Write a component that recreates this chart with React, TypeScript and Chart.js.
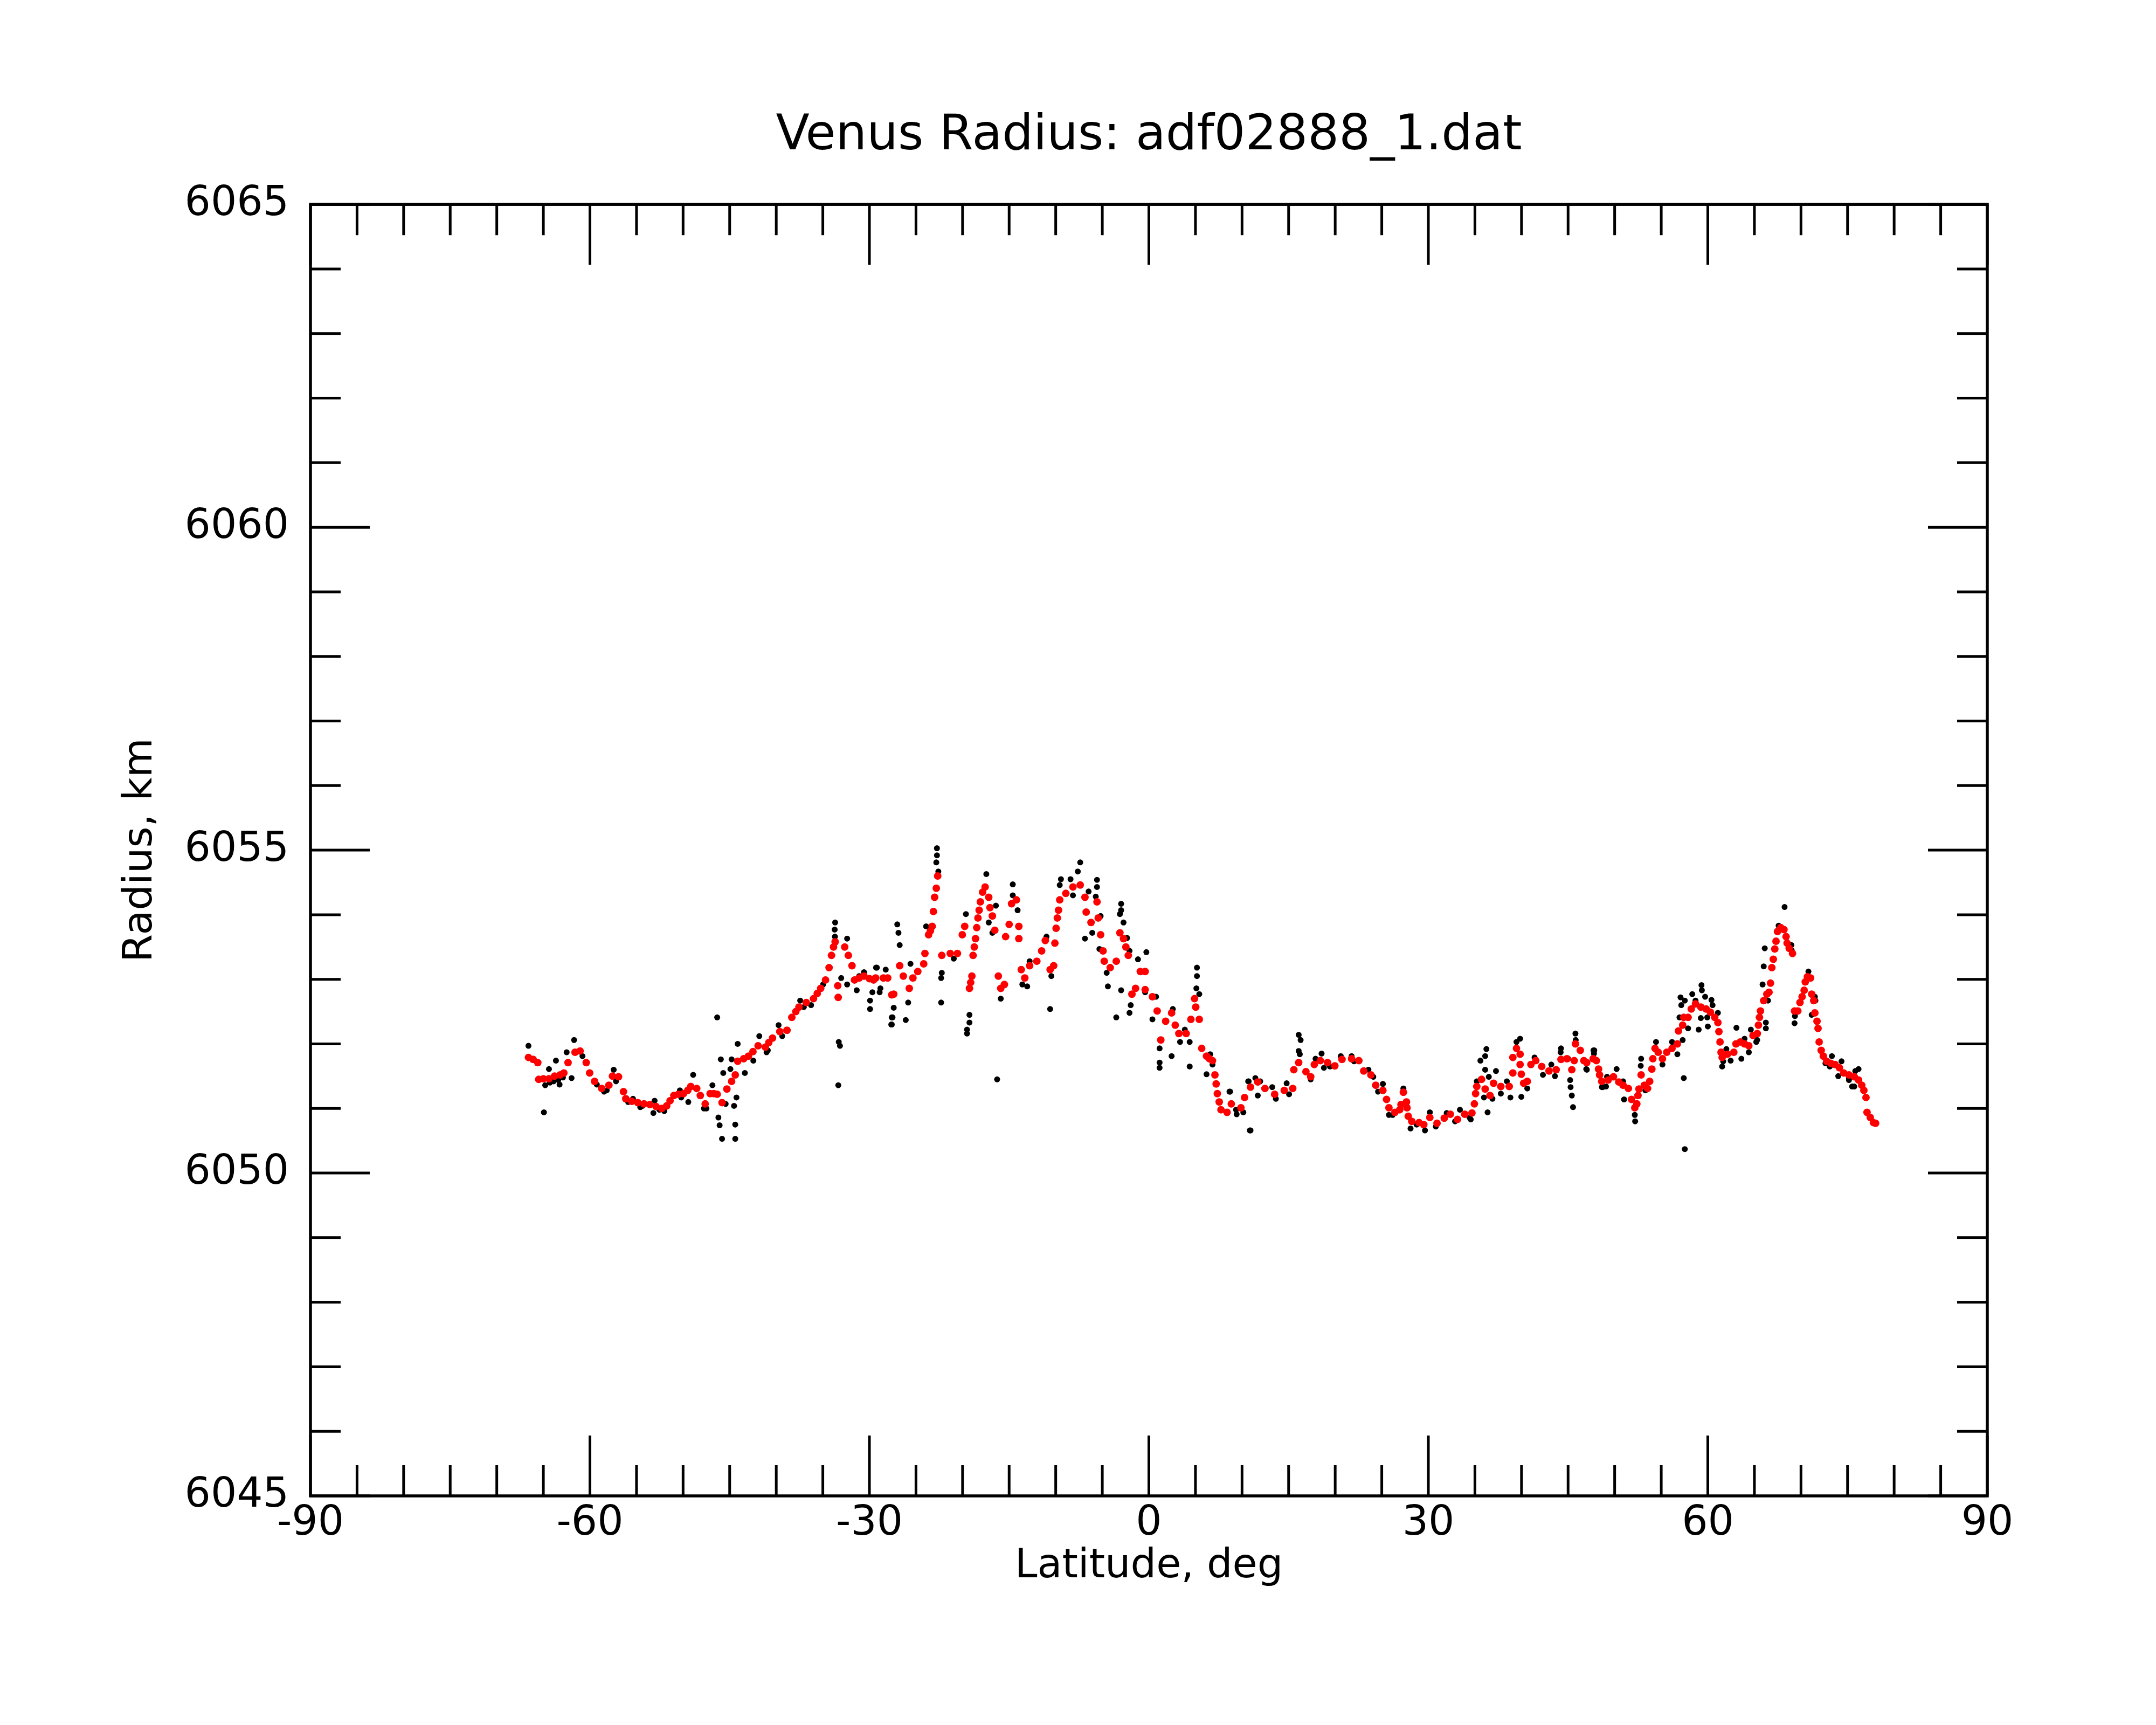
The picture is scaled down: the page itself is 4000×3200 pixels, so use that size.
import { useEffect, useRef } from "react"
import { Chart, registerables } from "chart.js"

Chart.register(...registerables)

// smoothed radius (red)
const smoothLat = [
  -66.6, -66.1, -65.6, -65.5, -65.0, -64.4, -63.8, -63.2, -62.8, -62.35, -61.6, -61.06, -60.4, -60.03, -59.5,
  -58.74, -57.97, -57.58, -56.93, -56.4, -56.15, -55.5, -54.86, -54.2, -53.57, -52.9, -52.28, -51.76, -51.4,
  -50.99, -50.5, -49.96, -49.5, -49.18, -48.54, -48.15, -47.63, -47.1, -46.7, -46.34, -45.82, -45.3, -44.79,
  -44.4, -44.14, -43.5, -42.98, -42.5, -41.95, -41.17, -40.8, -40.4, -39.62, -38.85, -38.33, -37.9, -37.56,
  -36.78, -36.0, -35.6, -35.23, -34.71, -34.33, -34.07, -33.85, -33.68, -33.4, -33.35, -32.65, -32.26, -31.87,
  -31.6, -31.1, -30.58, -30.0, -29.55, -29.33, -28.5, -28.04, -27.6, -27.39,
  -26.75, -26.36, -25.72, -25.33, -24.81, -24.17, -24.04, -23.65, -23.45, -23.26, -23.13, -23.0, -22.82, -22.67,
  -22.23, -21.32, -20.55, -20.03, -19.77, -19.26, -19.13, -19.0, -18.87, -18.74, -18.61, -18.48, -18.35,
  -18.22, -18.09, -17.85, -17.58, -17.19, -17.06, -16.8, -16.54, -16.16, -15.9, -15.51, -15.38, -15.0, -14.74,
  -14.22, -13.96, -13.96, -13.7, -13.32, -12.8, -12.03, -11.51, -11.12, -10.6, -10.22, -10.09, -9.96, -9.83,
  -9.7, -9.57, -8.92, -8.15, -7.37, -6.86, -6.73, -6.21, -5.57, -5.44, -5.18, -4.92, -4.79, -4.15, -3.5,
  -3.11, -2.72, -2.47, -2.21, -1.82, -1.43, -0.92, -0.4, -0.4, 0.38, 0.89, 1.28, 1.8, 2.44, 2.83, 3.22, 4.0,
  4.51, 4.9, 5.03, 5.41, 5.67, 6.19, 6.5, 6.83, 7.09, 7.22, 7.35, 7.55, 7.74, 8.39,
  8.85, 9.88, 10.27, 10.91, 11.69, 12.46, 13.5, 14.53, 15.44, 15.56, 16.08, 16.86, 17.37, 17.76, 18.41, 19.18,
  19.96, 20.73, 21.76, 22.54, 23.06, 23.83, 24.35, 25.12, 25.51, 25.77, 26.41, 26.93, 27.06, 27.32, 27.65,
  27.71, 27.84, 28.22, 29.0, 29.51, 30.16, 30.93, 31.71, 32.36, 33.13, 33.91, 34.68, 34.94, 35.07, 35.2, 35.71,
  36.1, 36.62, 37.0, 37.78, 38.68, 39.07, 39.07, 39.46, 39.85, 39.85, 39.98, 40.23, 40.62, 41.01, 41.53, 42.17,
  42.95, 43.72, 44.24, 44.88, 45.4, 45.66, 45.79, 46.31, 46.69,
  47.0, 47.69, 48.04, 48.27, 48.38, 48.61, 49.3, 49.87, 50.44, 50.9, 51.47, 51.81, 52.16, 52.38, 52.5, 52.61,
  52.84, 53.19, 53.53, 53.76, 53.99, 54.1, 54.33, 54.67, 55.13, 55.59, 56.16, 56.73, 56.85, 57.3, 57.42, 57.88,
  58.22, 58.68, 59.25, 59.82, 60.28, 60.74, 61.08, 61.19, 61.31, 61.42, 61.54, 62.11, 62.79, 63.02, 63.48,
  63.94, 64.4, 64.85, 65.31, 65.43, 65.54, 65.65, 66.0, 66.34, 66.57, 66.73, 66.87, 67.03, 67.19, 67.32, 67.48,
  67.83, 68.17, 68.4, 68.51, 68.74, 69.09, 69.31, 69.66, 69.89, 70.12, 70.34, 70.46, 70.69, 71.03, 71.15,
  71.37, 71.49, 71.72, 71.83, 71.95, 72.17, 72.4, 72.75, 73.2, 73.66, 74.12, 74.58, 75.15, 75.72, 76.18, 76.52,
  76.75, 76.98, 77.09, 77.44, 77.78, 78.01,
]
const smoothRadius = [
  6051.79, 6051.76, 6051.71, 6051.45, 6051.46, 6051.46, 6051.5, 6051.52, 6051.55, 6051.71, 6051.87, 6051.89,
  6051.71, 6051.55, 6051.42, 6051.31, 6051.36, 6051.5, 6051.49, 6051.26, 6051.15, 6051.11, 6051.09, 6051.07,
  6051.06, 6051.03, 6051.0, 6051.04, 6051.12, 6051.2, 6051.22, 6051.23, 6051.28, 6051.34, 6051.31, 6051.2,
  6051.07, 6051.23, 6051.23, 6051.22, 6051.09, 6051.3, 6051.42, 6051.52, 6051.73, 6051.77, 6051.81, 6051.88,
  6051.97, 6051.95, 6052.02, 6052.09, 6052.19, 6052.21, 6052.41, 6052.5, 6052.57, 6052.64, 6052.7, 6052.78,
  6052.86, 6052.99, 6053.18, 6053.37, 6053.5, 6053.58, 6052.9, 6052.72, 6053.5, 6053.37, 6053.21, 6052.99,
  6053.02, 6053.05, 6053.01, 6052.99, 6053.02, 6053.02, 6053.02, 6052.76, 6052.77,
  6053.21, 6053.05, 6052.86, 6053.02, 6053.12, 6053.24, 6053.4, 6053.69, 6053.75, 6053.82, 6054.05, 6054.27,
  6054.41, 6054.6, 6053.37, 6053.4, 6053.4, 6053.69, 6053.82, 6052.86, 6052.95, 6053.05, 6053.37, 6053.5,
  6053.63, 6053.8, 6053.95, 6054.07, 6054.2, 6054.35, 6054.43, 6054.27, 6054.11, 6053.98, 6053.76, 6053.05,
  6052.86, 6052.92, 6053.66, 6053.85, 6054.17, 6054.23, 6053.82, 6053.63, 6053.15, 6053.02, 6053.21, 6053.28,
  6053.44, 6053.6, 6053.15, 6053.21, 6053.56, 6053.79, 6053.95, 6054.07, 6054.23, 6054.33, 6054.43, 6054.46,
  6054.27, 6054.04, 6053.88, 6054.2, 6053.95, 6053.69, 6053.44, 6053.28, 6053.18, 6053.28, 6053.72, 6053.63,
  6053.5, 6053.37, 6052.77, 6052.86, 6053.12, 6053.12, 6052.84, 6052.73, 6052.51, 6052.06, 6052.35, 6052.48,
  6052.29, 6052.16, 6052.16, 6052.38, 6052.7, 6052.57, 6052.38, 6051.93, 6051.81, 6051.77, 6051.74, 6051.52,
  6051.38, 6051.23, 6051.1, 6050.98, 6050.94,
  6051.07, 6051.01, 6051.17, 6051.33, 6051.41, 6051.31, 6051.22, 6051.28, 6051.31, 6051.6, 6051.71, 6051.57,
  6051.49, 6051.68, 6051.74, 6051.71, 6051.66, 6051.76, 6051.77, 6051.74, 6051.58, 6051.52, 6051.36, 6051.28,
  6051.14, 6051.01, 6050.94, 6050.98, 6051.06, 6051.25, 6051.1, 6051.01, 6050.88, 6050.8, 6050.78, 6050.75,
  6050.86, 6050.77, 6050.85, 6050.91, 6050.83, 6050.91, 6050.93, 6051.07, 6051.23, 6051.34, 6051.45, 6051.3,
  6051.2, 6051.39, 6051.34, 6051.34, 6051.55, 6051.79, 6051.93, 6051.84, 6051.68, 6051.53, 6051.39, 6051.42,
  6051.68, 6051.74, 6051.65, 6051.58, 6051.6, 6051.76, 6051.77, 6051.6, 6051.74, 6052.0, 6051.9, 6051.74,
  6051.71, 6051.77, 6051.74, 6051.61, 6051.52, 6051.42, 6051.44, 6051.49, 6051.41, 6051.36, 6051.31, 6051.14,
  6051.01, 6051.07, 6051.2, 6051.3, 6051.52, 6051.36, 6051.31, 6051.42, 6051.61, 6051.77, 6051.93, 6051.87,
  6051.77, 6051.87, 6051.93, 6052.0, 6052.2, 6052.29, 6052.41, 6052.41, 6052.54, 6052.62, 6052.57, 6052.54,
  6052.49, 6052.41, 6052.33, 6052.19, 6052.03, 6051.87, 6051.79, 6051.84, 6051.87, 6052.0, 6052.03, 6052.0,
  6051.97, 6052.13, 6052.16, 6052.29, 6052.41, 6052.51, 6052.67, 6052.77, 6052.8, 6052.94, 6053.18, 6053.31,
  6053.47, 6053.59, 6053.74, 6053.8, 6053.77, 6053.66, 6053.56, 6053.48, 6053.4, 6052.51, 6052.51, 6052.64,
  6052.73, 6052.83, 6052.96, 6053.04, 6053.02, 6052.77, 6052.67, 6052.48, 6052.35, 6052.24, 6052.03, 6051.9,
  6051.81, 6051.73, 6051.7, 6051.68, 6051.63, 6051.55, 6051.52, 6051.49, 6051.44, 6051.36, 6051.28, 6051.17,
  6050.94, 6050.86, 6050.78, 6050.77,
]

// raw radius samples (black)
const rawLat = [
  -66.6, -64.94, -64.8, -64.4, -63.65, -63.26, -62.5, -61.97, -61.7, -60.8, -58.48, -57.45, -55.38, -54.6,
  -53.19, -53.06, -50.34, -49.44, -48.92, -47.76, -46.85, -46.34, -46.21, -46.08, -45.82, -45.95, -45.69,
  -45.43, -44.92, -44.79, -44.53, -44.4, -44.4, -44.27, -44.14, -43.37, -41.82, -41.04, -39.75, -37.43, -34.97,
  -33.68, -33.73, -33.7, -33.29, -33.16, -33.34, -33.03, -32.39, -32.39, -31.36, -30.58, -29.93, -29.93, -29.68,
  -29.29, -28.9, -28.25, -27.6, -27.6,
  -59.26, -55.9, -54.35, -52.54, -52.02, -50.2, -47.5, -42.46, -40.91, -39.36, -37.04, -36.26, -31.1,
  -64.3, -63.9, -63.4, -62.9, -58.2, -57.2,
  -22.75, -22.75, -22.82, -22.6, -27.01, -26.88, -26.75, -27.39, -27.52, -27.65, -26.1, -25.84, -25.59, -28.82,
  -29.2, -23.91, -22.23, -22.3, -22.3, -20.94, -19.64, -19.52, -19.52, -19.26, -19.26, -17.45, -17.19, -16.8,
  -16.42, -16.29, -15.9, -14.61, -14.61, -14.09, -13.58, -13.06, -12.8, -10.99, -10.6, -10.47, -9.44, -9.57,
  -8.41, -8.15, -7.63, -7.37, -6.47, -5.57, -5.57, -5.7, -6.86, -6.08, -5.18, -5.31, -4.53, -4.4, -3.5, -2.98,
  -2.98, -3.11, -2.72, -2.98, -2.34, -2.08, -1.95, -2.08, -1.17, -0.27, -0.4, 0.38, 0.77, 1.15, 1.15, 1.15,
  2.44, 2.57, 3.35, 3.86, 4.38, 4.38, 5.16, 5.16, 5.1, 5.41, 6.19, 6.58, 6.83, 8.65, 9.42, 10.71, 10.84,
  8.72, 9.36, 10.91, 10.66, 11.43, 11.95, 11.69, 13.24, 13.63, 14.79, 15.05, 16.08, 16.29, 16.08, 16.2, 17.37,
  17.89, 18.54, 18.79, 20.6, 21.76, 23.57, 25.12, 25.77, 27.32, 28.09, 29.64, 30.16, 30.8, 31.97, 33.39,
  34.55, 35.2, 35.59, 36.1, 36.23, 36.1, 35.97, 36.36, 36.49, 36.88, 37.26, 37.78, 38.43, 38.81, 39.46,
  39.85, 39.98, 40.62, 41.4, 42.3, 43.2, 43.59, 44.24, 44.2, 45.01, 45.22, 45.27, 45.4, 45.53, 45.79, 45.82,
  46.95, 47.73, 47.78, 48.63,
  10.14, 19.44, 22.02, 24.09, 24.6, 26.16, 28.74, 32.87, 34.42,
  47.81, 47.01, 48.72, 49.18, 50.21, 50.9, 51.01, 52.16, 52.2, 52.84, 52.8, 53.3, 54.44, 55.13, 56.16, 56.73,
  57.3, 57.42, 57.53, 56.96, 57.07, 57.15, 57.53, 57.88, 58.33, 58.68, 59.02, 59.25, 59.32, 59.36, 59.71,
  59.94, 60.0, 60.39, 60.51, 61.08, 61.54, 61.65, 61.99, 62.45, 63.07, 63.6, 63.94, 64.4, 64.62, 65.2, 65.3,
  65.88, 66.0, 66.11, 66.23, 66.23, 66.46, 67.6, 68.24, 68.97, 69.0, 69.31, 69.35, 70.8, 71.49, 71.55, 71.15,
  72.63, 73.32, 74.0, 74.35, 75.15, 75.83, 76.18, 75.72,
  49.07, 73.09, 75.15, 75.49,
]
const rawRadius = [
  6051.97, 6050.94, 6051.36, 6051.61, 6051.74, 6051.37, 6051.87, 6051.47, 6052.06, 6051.81, 6051.26, 6051.6,
  6051.15, 6051.02, 6050.93, 6051.12, 6051.28, 6051.1, 6051.52, 6051.0, 6051.36, 6052.41, 6050.86, 6050.74,
  6050.53, 6051.76, 6051.55, 6051.07, 6051.61, 6051.76, 6051.04, 6050.75, 6050.53, 6051.17, 6052.0, 6051.55,
  6052.12, 6051.87, 6052.29, 6052.67, 6052.92, 6053.88, 6053.77, 6053.66, 6052.03, 6051.97, 6051.36, 6053.02,
  6053.63, 6052.92, 6052.83, 6053.11, 6052.67, 6052.54, 6052.8, 6053.18, 6052.8, 6053.15, 6052.41, 6052.3,
  6051.37, 6051.1, 6051.04, 6050.98, 6050.96, 6051.17, 6051.0, 6051.74, 6051.9, 6052.12, 6052.57, 6052.6, 6053.05,
  6051.4, 6051.42, 6051.44, 6051.48, 6051.28, 6051.42,
  6055.03, 6054.92, 6054.81, 6054.67, 6053.85, 6053.72, 6053.53, 6052.56, 6052.41, 6052.3, 6052.37, 6052.64,
  6053.24, 6052.86, 6053.18, 6053.82, 6053.1, 6053.02, 6052.64, 6053.32, 6054.01, 6052.22, 6052.16, 6052.33,
  6052.45, 6054.63, 6053.88, 6053.72, 6054.14, 6051.45, 6052.7, 6054.47, 6054.3, 6054.07, 6052.92, 6052.89,
  6053.28, 6053.66, 6052.54, 6053.05, 6054.55, 6054.46, 6054.55, 6054.3, 6054.67, 6054.81, 6054.36, 6054.54,
  6054.43, 6054.28, 6053.63, 6053.72, 6053.98, 6053.47, 6053.1, 6052.89, 6052.41, 6054.17, 6054.07, 6054.01,
  6053.88, 6052.83, 6053.64, 6053.44, 6052.6, 6052.48, 6053.31, 6053.42, 6052.8, 6052.38, 6052.73, 6051.93,
  6051.71, 6051.63, 6051.81, 6052.54, 6052.03, 6052.22, 6052.03, 6051.65, 6053.18, 6053.05, 6052.86, 6052.77,
  6051.53, 6051.84, 6051.68, 6051.26, 6050.91, 6051.42, 6050.66,
  6051.26, 6050.98, 6050.66, 6051.42, 6051.47, 6051.42, 6051.2, 6051.33, 6051.15, 6051.39, 6051.22, 6052.14,
  6052.06, 6051.89, 6051.84, 6051.45, 6051.77, 6051.85, 6051.63, 6051.81, 6051.81, 6051.6, 6051.38, 6050.9,
  6051.31, 6050.69, 6050.66, 6050.94, 6050.72, 6050.93, 6050.98, 6050.83, 6051.42, 6051.74, 6051.81, 6051.92,
  6051.6, 6051.17, 6050.94, 6051.49, 6051.15, 6051.58, 6051.23, 6051.42, 6051.17, 6052.03, 6052.08, 6051.18,
  6051.31, 6051.79, 6051.52, 6051.68, 6051.5, 6051.93, 6051.87, 6051.77, 6051.44, 6051.33, 6051.2, 6051.02,
  6052.16, 6052.06, 6051.61, 6051.9, 6051.85, 6051.33,
  6050.94, 6051.65, 6051.73, 6051.49, 6051.26, 6050.9, 6050.75, 6050.8, 6050.86,
  6051.9, 6051.6, 6051.33, 6051.49, 6051.61, 6051.42, 6051.14, 6050.9, 6050.8, 6051.77, 6051.66, 6051.28,
  6052.03, 6051.68, 6052.03, 6051.84, 6052.06, 6051.47, 6050.37, 6052.41, 6052.72, 6052.6, 6052.67, 6052.24,
  6052.77, 6052.67, 6052.22, 6052.4, 6052.91, 6052.83, 6052.73, 6052.41, 6052.27, 6052.68, 6052.6, 6052.48,
  6051.65, 6051.73, 6051.92, 6051.74, 6052.25, 6051.77, 6052.08, 6051.87, 6052.22, 6052.03, 6052.06, 6052.92,
  6053.2, 6053.48, 6052.33, 6052.24, 6052.67, 6053.83, 6054.12, 6053.53, 6053.45, 6052.32, 6052.43, 6053.12,
  6052.73, 6052.67, 6052.45, 6051.7, 6051.81, 6051.5, 6051.73, 6051.44, 6051.58, 6051.61, 6051.34,
  6051.34, 6051.65, 6051.47, 6051.34,
]

// axis ticks
const xMajorTicks = [-90, -60, -30, 0, 30, 60, 90]
const xMinorTicks = [
  -85, -80, -75, -70, -65, -55, -50, -45, -40, -35, -25, -20, -15, -10, -5, 5, 10, 15, 20, 25, 35, 40, 45, 50,
  55, 65, 70, 75, 80, 85,
]
const yMajorTicks = [6045, 6050, 6055, 6060, 6065]
const yMinorTicks = [
  6046, 6047, 6048, 6049, 6051, 6052, 6053, 6054, 6056, 6057, 6058, 6059, 6061, 6062, 6063, 6064,
]

const FONT = "'DejaVu Sans', sans-serif"

// box with inward tick marks on all four sides
const frameTicks = {
  id: "frameTicks",
  afterDraw(chart: any) {
    const { ctx, chartArea: a, scales } = chart
    const xs = scales.x
    const ys = scales.y
    ctx.save()
    ctx.strokeStyle = "#000"
    ctx.lineWidth = 5
    ctx.beginPath()
    const xt = (v: number, len: number) => {
      const px = xs.getPixelForValue(v)
      ctx.moveTo(px, a.bottom)
      ctx.lineTo(px, a.bottom - len)
      ctx.moveTo(px, a.top)
      ctx.lineTo(px, a.top + len)
    }
    const yt = (v: number, len: number) => {
      const py = ys.getPixelForValue(v)
      ctx.moveTo(a.left, py)
      ctx.lineTo(a.left + len, py)
      ctx.moveTo(a.right, py)
      ctx.lineTo(a.right - len, py)
    }
    xMajorTicks.forEach((v) => xt(v, 112))
    xMinorTicks.forEach((v) => xt(v, 57))
    yMajorTicks.forEach((v) => yt(v, 110))
    yMinorTicks.forEach((v) => yt(v, 56))
    ctx.stroke()
    ctx.lineWidth = 5.5
    ctx.strokeRect(a.left, a.top, a.right - a.left, a.bottom - a.top)
    ctx.restore()
  },
}

export default function App() {
  const chartRef = useRef<HTMLCanvasElement>(null)
  const chartInstance = useRef<Chart | null>(null)

  useEffect(() => {
    if (!chartRef.current) return
    const ctx = chartRef.current.getContext("2d")
    if (!ctx) return

    if (chartInstance.current) {
      chartInstance.current.destroy()
    }

    const smoothPoints = smoothLat.map((x, i) => ({ x, y: smoothRadius[i] }))
    const rawPoints = rawLat.map((x, i) => ({ x, y: rawRadius[i] }))

    chartInstance.current = new Chart(ctx, {
      type: "scatter",
      data: {
        datasets: [
          {
            label: "smoothed",
            data: smoothPoints,
            backgroundColor: "#ff0000",
            borderWidth: 0,
            pointRadius: 7,
          },
          {
            label: "raw",
            data: rawPoints,
            backgroundColor: "#000000",
            borderWidth: 0,
            pointRadius: 5.5,
          },
        ],
      },
      options: {
        responsive: false,
        animation: false,
        devicePixelRatio: 1,
        layout: { padding: { left: 0, right: 313, top: 0, bottom: 0 } },
        plugins: {
          legend: { display: false },
          tooltip: { enabled: false },
          title: {
            display: true,
            fullSize: false,
            text: "Venus Radius: adf02888_1.dat",
            color: "#000",
            font: { family: FONT, size: 91, weight: "normal", lineHeight: 1.2 },
            padding: { top: 199, bottom: 71 },
          },
        },
        scales: {
          x: {
            type: "linear",
            min: -90,
            max: 90,
            grid: { display: false, drawTicks: false },
            border: { display: false },
            ticks: {
              stepSize: 30,
              autoSkip: false,
              maxRotation: 0,
              padding: 7,
              color: "#000",
              font: { family: FONT, size: 76, lineHeight: 1.2 },
              callback: (v: any) => String(v),
            },
            title: {
              display: true,
              text: "Latitude, deg",
              color: "#000",
              font: { family: FONT, size: 75, lineHeight: 1.2 },
              padding: { top: 0, bottom: 248 },
            },
            afterFit: (scale: any) => {
              scale.height = 425
              scale.paddingLeft = 0
              scale.paddingRight = 0
            },
          },
          y: {
            type: "linear",
            min: 6045,
            max: 6065,
            grid: { display: false, drawTicks: false },
            border: { display: false },
            ticks: {
              stepSize: 5,
              padding: 40,
              color: "#000",
              font: { family: FONT, size: 76, lineHeight: 1.2 },
              callback: (v: any) => String(v),
            },
            title: {
              display: true,
              text: "Radius, km",
              color: "#000",
              font: { family: FONT, size: 75, lineHeight: 1.2 },
              padding: { top: 217, bottom: 0 },
            },
            afterFit: (scale: any) => {
              scale.width = 576
              scale.paddingTop = 0
              scale.paddingBottom = 0
            },
          },
        },
      },
      plugins: [frameTicks],
    })

    return () => {
      if (chartInstance.current) {
        chartInstance.current.destroy()
        chartInstance.current = null
      }
    }
  }, [])

  return (
    <div style={{ position: "absolute", left: 0, top: 0, width: 4000, height: 3200, background: "#fff" }}>
      <canvas ref={chartRef} width={4000} height={3200} style={{ width: 4000, height: 3200 }} />
    </div>
  )
}
